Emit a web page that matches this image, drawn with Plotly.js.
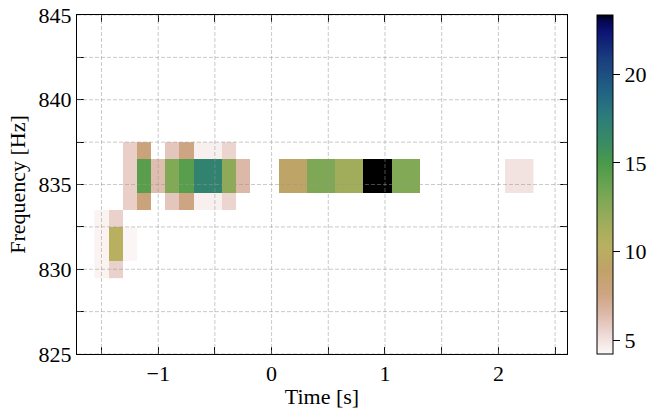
<!DOCTYPE html>
<html>
<head>
<meta charset="utf-8">
<script src="https://cdn.plot.ly/plotly-3.0.1.min.js"></script>
<style>html,body{margin:0;padding:0;background:#fff;}#chart{width:653px;height:411px;}</style>
</head>
<body>
<div id="chart"></div>
<script>
// Time bin centres [s] (0.125 s bins)
const times = [-1.5, -1.375, -1.25, -1.125, -1.0, -0.875, -0.75, -0.625, -0.5, -0.375, -0.25, -0.125,
  0.0, 0.125, 0.25, 0.375, 0.5, 0.625, 0.75, 0.875, 1.0, 1.125, 1.25, 1.375, 1.5, 1.625, 1.75, 1.875, 2.0, 2.125, 2.25];
// Frequency bin centres [Hz]
const freqs = [830, 831, 832, 833, 834, 835, 836, 837];
const N = null;
// Energy per frequency row (one value per time bin)
const f830 = [4.4, 5.6, N, N, N, N, N, N, N, N, N, N, N, N, N, N, N, N, N, N, N, N, N, N, N, N, N, N, N, N, N];
const f831 = [4.4, 10.3, 4.3, N, N, N, N, N, N, N, N, N, N, N, N, N, N, N, N, N, N, N, N, N, N, N, N, N, N, N, N];
const f832 = [4.4, 10.3, 4.3, N, N, N, N, N, N, N, N, N, N, N, N, N, N, N, N, N, N, N, N, N, N, N, N, N, N, N, N];
const f833 = [4.4, 5.6, N, N, N, N, N, N, N, N, N, N, N, N, N, N, N, N, N, N, N, N, N, N, N, N, N, N, N, N, N];
const f834 = [N, N, 5.7, 8.0, N, 6.0, 7.6, 4.5, 4.5, 5.5, N, N, N, N, N, N, N, N, N, N, N, N, N, N, N, N, N, N, N, N, N];
const f835 = [N, N, 5.7, 14.4, 6.3, 12.8, 14.4, 17.0, 17.0, 12.3, 6.5, N, N, 9.2, 9.2, 12.9, 12.9, 11.5, 11.5, 23.36, 23.36, 12.8, 12.8, N, N, N, N, N, N, 5.0, 5.0];
const f836 = [N, N, 5.7, 14.4, 6.3, 12.8, 14.4, 17.0, 17.0, 12.3, 6.5, N, N, 9.2, 9.2, 12.9, 12.9, 11.5, 11.5, 23.36, 23.36, 12.8, 12.8, N, N, N, N, N, N, 5.0, 5.0];
const f837 = [N, N, 5.7, 8.0, N, 6.0, 7.6, 4.5, 4.5, 5.5, N, N, N, N, N, N, N, N, N, N, N, N, N, N, N, N, N, N, N, N, N];

const xTickVals = [-1.5, -1, -0.5, 0, 0.5, 1, 1.5, 2, 2.5];
const xTickText = ['', '\u22121', '', '0', '', '1', '', '2', ''];
const yTickVals = [825, 827.5, 830, 832.5, 835, 837.5, 840, 842.5, 845];
const yTickText = ['825', '', '830', '', '835', '', '840', '', '845'];
const cbTickVals = [5, 10, 15, 20];

const z = [f830, f831, f832, f833, f834, f835, f836, f837];

const gistEarthR = [
  [0.00, '#fcf8f8'], [0.06, '#eed8d5'], [0.12, '#dcb8a8'], [0.18, '#cda480'],
  [0.25, '#c0a268'], [0.32, '#b8b060'], [0.38, '#a2ad5c'], [0.46, '#7ca855'],
  [0.56, '#4c9a4a'], [0.62, '#3a8c62'], [0.70, '#2c7c7a'], [0.77, '#226484'],
  [0.87, '#1a3e7e'], [0.95, '#0c1474'], [0.985, '#050550'], [1.00, '#000000']
];

const font = {family: '"Liberation Serif", "DejaVu Serif", serif', size: 22, color: '#000'};

const gridShapes = [];
xTickVals.forEach(v => gridShapes.push({type: 'line', xref: 'x', yref: 'paper', x0: v, x1: v, y0: 0, y1: 1,
  layer: 'above', line: {color: 'rgba(150,150,150,0.5)', width: 1, dash: '4px,2px'}}));
yTickVals.forEach(v => gridShapes.push({type: 'line', xref: 'paper', yref: 'y', x0: 0, x1: 1, y0: v, y1: v,
  layer: 'above', line: {color: 'rgba(150,150,150,0.5)', width: 1, dash: '4px,2px'}}));

const trace = {
  type: 'heatmap', x: times, y: freqs, z: z,
  colorscale: gistEarthR, zmin: 4.21, zmax: 23.36, zsmooth: false,
  hoverongaps: false,
  colorbar: {
    x: 1.061, xanchor: 'left', xref: 'paper', y: 0, yanchor: 'bottom', len: 1, lenmode: 'fraction',
    thickness: 16, thicknessmode: 'pixels', outlinewidth: 1, outlinecolor: '#000',
    tickvals: cbTickVals, ticks: 'outside', ticklen: 7, tickwidth: 1, tickcolor: '#000',
    tickfont: font, xpad: 0, ypad: 0
  }
};

const layout = {
  width: 653, height: 411,
  margin: {l: 77, r: 86, t: 15, b: 57, autoexpand: false},
  paper_bgcolor: '#fff', plot_bgcolor: '#fff',
  font: font,
  showlegend: false,
  xaxis: {
    range: [-1.716, 2.605], tickmode: 'array', tickvals: xTickVals, ticktext: xTickText,
    ticks: 'inside', ticklen: 7, tickwidth: 1, tickcolor: '#000',
    showline: true, linecolor: '#000', linewidth: 1, mirror: 'ticks',
    showgrid: false, zeroline: false, tickfont: font, automargin: false,
    title: {text: 'Time [s]', font: font, standoff: 3}
  },
  yaxis: {
    range: [825, 845], tickmode: 'array', tickvals: yTickVals, ticktext: yTickText,
    ticks: 'inside', ticklen: 7, tickwidth: 1, tickcolor: '#000',
    showline: true, linecolor: '#000', linewidth: 1, mirror: 'ticks',
    showgrid: false, zeroline: false, tickfont: font, automargin: false,
    title: {text: 'Frequency [Hz]', font: font, standoff: 6}
  },
  shapes: gridShapes
};

Plotly.newPlot('chart', [trace], layout, {displayModeBar: false, staticPlot: true});
</script>
</body>
</html>
